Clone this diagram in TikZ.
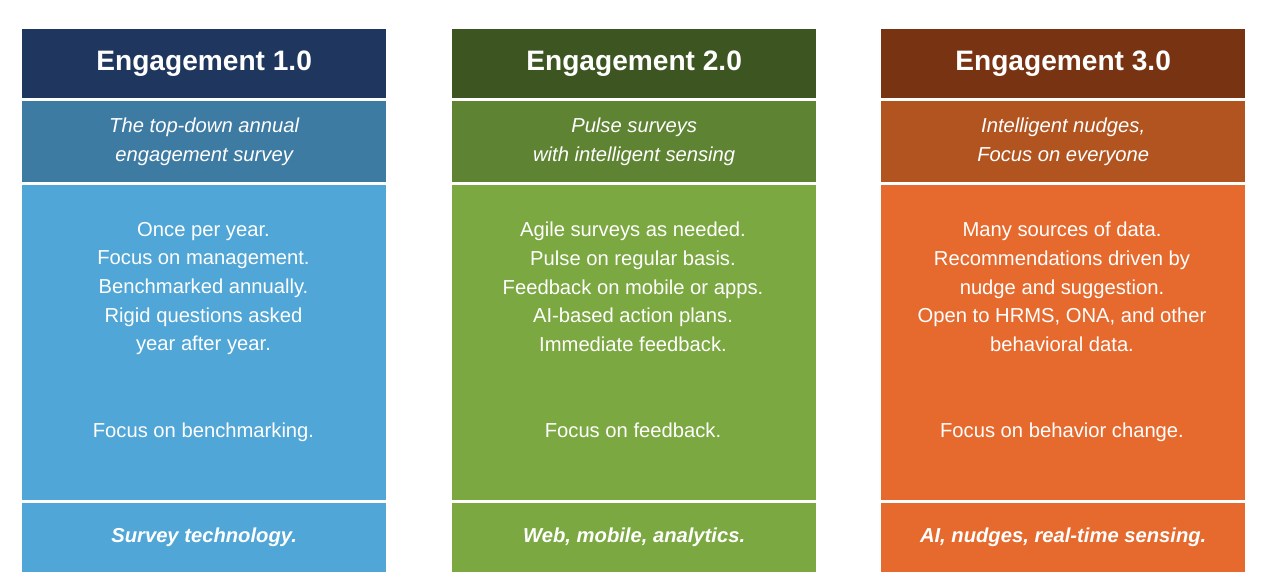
\documentclass[tikz,border=0pt]{standalone}
\usepackage{fontspec}
\setmainfont{Liberation Sans}
\definecolor{headA}{RGB}{31, 55, 94}
\definecolor{subA}{RGB}{62, 123, 163}
\definecolor{bodyA}{RGB}{80, 166, 214}
\definecolor{headB}{RGB}{61, 85, 32}
\definecolor{subB}{RGB}{94, 132, 51}
\definecolor{bodyB}{RGB}{123, 168, 65}
\definecolor{headC}{RGB}{120, 52, 18}
\definecolor{subC}{RGB}{178, 84, 32}
\definecolor{bodyC}{RGB}{230, 106, 45}
\begin{document}
\begin{tikzpicture}[x=0.02cm, y=-0.02cm,
        col box/.style={draw=white, line width=0.8pt, minimum width=7.3cm, anchor=north west, inner sep=0pt},
        col head/.style={col box, minimum height=1.4cm, font=\fontsize{16}{19}\selectfont\bfseries, text=white},
        col sub/.style={col box, minimum height=1.66cm, align=center, font=\fontsize{11.5}{16.5}\selectfont\itshape, text=white},
        col body/.style={col box, minimum height=6.32cm},
        col foot/.style={col box, minimum height=1.42cm, font=\fontsize{11.5}{14}\selectfont\bfseries\itshape, text=white},
        col text/.style={align=center, font=\fontsize{11.5}{16.3}\selectfont, text=white, anchor=north},
    ]
    \useasboundingbox[fill=white] (0,0) rectangle (1276,586);

    % column 1
    \node[col head, fill=headA] (head 1) at (21,28) {Engagement 1.0};
    \node[col sub, fill=subA] (sub 1) at (head 1.south west) {The top-down annual\\engagement survey};
    \node[col body, fill=bodyA] (body 1) at (sub 1.south west) {};
    \node[col foot, fill=bodyA] (foot 1) at (body 1.south west) {Survey technology.};
    \node[col text] (list 1) at (203.5,216) {Once per year.\\Focus on management.\\Benchmarked annually.\\Rigid questions asked\\year after year.};
    \node[col text] (focus 1) at (203.5,417) {Focus on benchmarking.};

    % column 2
    \node[col head, fill=headB] (head 2) at (451,28) {Engagement 2.0};
    \node[col sub, fill=subB] (sub 2) at (head 2.south west) {Pulse surveys\\with intelligent sensing};
    \node[col body, fill=bodyB] (body 2) at (sub 2.south west) {};
    \node[col foot, fill=bodyB] (foot 2) at (body 2.south west) {Web, mobile, analytics.};
    \node[col text] (list 2) at (633,216) {Agile surveys as needed.\\Pulse on regular basis.\\Feedback on mobile or apps.\\AI-based action plans.\\Immediate feedback.};
    \node[col text] (focus 2) at (633,417) {Focus on feedback.};

    % column 3
    \node[col head, fill=headC] (head 3) at (880,28) {Engagement 3.0};
    \node[col sub, fill=subC] (sub 3) at (head 3.south west) {Intelligent nudges,\\Focus on everyone};
    \node[col body, fill=bodyC] (body 3) at (sub 3.south west) {};
    \node[col foot, fill=bodyC] (foot 3) at (body 3.south west) {AI, nudges, real-time sensing.};
    \node[col text] (list 3) at (1062,216) {Many sources of data.\\Recommendations driven by\\nudge and suggestion.\\Open to HRMS, ONA, and other\\behavioral data.};
    \node[col text] (focus 3) at (1062,417) {Focus on behavior change.};
\end{tikzpicture}
\end{document}
